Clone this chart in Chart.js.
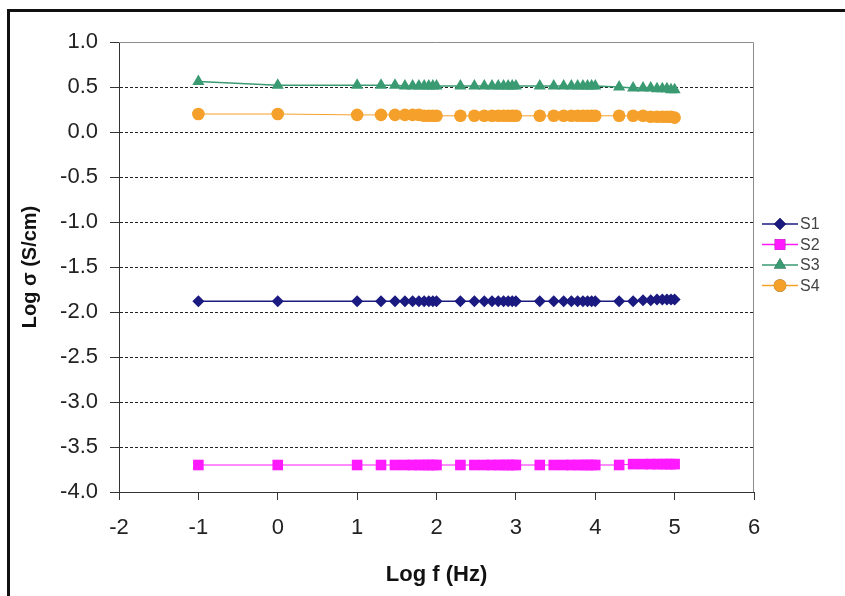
<!DOCTYPE html>
<html>
<head>
<meta charset="utf-8">
<script src="https://cdn.jsdelivr.net/npm/chart.js@4.4.1/dist/chart.umd.min.js"></script>
<style>
  html, body { margin: 0; padding: 0; background: #fff; }
  #wrap { position: relative; width: 845px; height: 596px; overflow: hidden; }
  #frame {
    position: absolute; left: 7px; top: 9px; width: 900px; height: 700px;
    border-top: 3px solid #111; border-left: 3px solid #111; pointer-events: none;
  }
</style>
</head>
<body>
<div id="wrap">
  <canvas id="chart" width="845" height="596"></canvas>
  <div id="frame"></div>
</div>
<script>
// log of frequency (Hz)
const logF = [
  -1, 0, 1,
  1.301, 1.477, 1.602, 1.699, 1.778, 1.845, 1.903, 1.954, 2,
  2.301, 2.477, 2.602, 2.699, 2.778, 2.845, 2.903, 2.954, 3,
  3.301, 3.477, 3.602, 3.699, 3.778, 3.845, 3.903, 3.954, 4,
  4.301, 4.477, 4.602, 4.699, 4.778, 4.845, 4.903, 4.954, 5
];

// log conductivity (S/cm) for each sample
const s1 = [
  -1.88, -1.88, -1.88,
  -1.88, -1.88, -1.88, -1.88, -1.88, -1.88, -1.88, -1.88, -1.88,
  -1.88, -1.88, -1.88, -1.88, -1.88, -1.88, -1.88, -1.88, -1.88,
  -1.88, -1.88, -1.88, -1.88, -1.88, -1.88, -1.88, -1.88, -1.88,
  -1.88, -1.88, -1.87, -1.87, -1.86, -1.86, -1.86, -1.86, -1.86
];
const s2 = [
  -3.70, -3.70, -3.70,
  -3.70, -3.70, -3.70, -3.70, -3.70, -3.70, -3.70, -3.70, -3.70,
  -3.70, -3.70, -3.70, -3.70, -3.70, -3.70, -3.70, -3.70, -3.70,
  -3.70, -3.70, -3.70, -3.70, -3.70, -3.70, -3.70, -3.70, -3.70,
  -3.70, -3.69, -3.69, -3.69, -3.69, -3.69, -3.69, -3.69, -3.69
];
const s3 = [
  0.56, 0.52, 0.52,
  0.52, 0.52, 0.51, 0.51, 0.51, 0.51, 0.51, 0.51, 0.51,
  0.51, 0.51, 0.51, 0.51, 0.51, 0.51, 0.51, 0.51, 0.51,
  0.51, 0.51, 0.51, 0.51, 0.51, 0.51, 0.51, 0.51, 0.51,
  0.50, 0.49, 0.49, 0.49, 0.48, 0.48, 0.48, 0.47, 0.47
];
const s4 = [
  0.20, 0.20, 0.19,
  0.19, 0.19, 0.19, 0.19, 0.19, 0.18, 0.18, 0.18, 0.18,
  0.18, 0.18, 0.18, 0.18, 0.18, 0.18, 0.18, 0.18, 0.18,
  0.18, 0.18, 0.18, 0.18, 0.18, 0.18, 0.18, 0.18, 0.18,
  0.18, 0.18, 0.18, 0.17, 0.17, 0.17, 0.17, 0.17, 0.16
];

const seriesNames = ['S1', 'S2', 'S3', 'S4'];
const xTicks = [-2, -1, 0, 1, 2, 3, 4, 5, 6];

function pts(ys) {
  return logF.map((x, i) => ({x: x, y: ys[i]}));
}

const FONT = 'Arial, "Liberation Sans", sans-serif';

// plot frame (grey top/right edges like Excel)
const plotFrame = {
  id: 'plotFrame',
  beforeDatasetsDraw(chart) {
    const {ctx, chartArea: a} = chart;
    ctx.save();
    ctx.strokeStyle = '#8c8c8c';
    ctx.lineWidth = 1;
    ctx.beginPath();
    ctx.moveTo(a.left, a.top + 0.5);
    ctx.lineTo(a.right - 0.5, a.top + 0.5);
    ctx.lineTo(a.right - 0.5, a.bottom);
    ctx.stroke();
    ctx.restore();
  }
};

// legend: line with marker, then label
const sideLegend = {
  id: 'sideLegend',
  afterDraw(chart) {
    const ctx = chart.ctx;
    const x0 = 762, x1 = 798, tx = 800;
    ctx.save();
    chart.data.datasets.forEach((ds, i) => {
      const y = 224 + i * 20.5;
      ctx.strokeStyle = ds.borderColor;
      ctx.lineWidth = 1.3;
      ctx.beginPath();
      ctx.moveTo(x0, y);
      ctx.lineTo(x1, y);
      ctx.stroke();
      Chart.helpers.drawPoint(ctx, {
        pointStyle: ds.pointStyle,
        radius: ds.pointRadius,
        borderWidth: 0
      }, (x0 + x1) / 2, y);
      ctx.fillStyle = ds.pointBackgroundColor;
      ctx.fill();
      ctx.fillStyle = '#444';
      ctx.font = '16px ' + FONT;
      ctx.textBaseline = 'middle';
      ctx.fillText(ds.label, tx, y + 1);
    });
    ctx.restore();
  }
};

const mk = (label, ys, color, style, radius, width) => ({
  label: label,
  data: pts(ys),
  borderColor: color,
  backgroundColor: color,
  pointBackgroundColor: color,
  pointBorderColor: color,
  pointBorderWidth: 0,
  pointStyle: style,
  pointRadius: radius,
  borderWidth: width,
  showLine: true,
  tension: 0
});

new Chart(document.getElementById('chart').getContext('2d'), {
  type: 'scatter',
  data: {
    datasets: [
      mk(seriesNames[0], s1, '#1a1a80', 'rectRot', 6, 1.5),
      mk(seriesNames[1], s2, '#ff19ff', 'rect', 7.5, 1),
      mk(seriesNames[2], s3, '#3a9a72', 'triangle', 7, 1.5),
      mk(seriesNames[3], s4, '#f5a02a', 'circle', 6.3, 1)
    ]
  },
  options: {
    responsive: false,
    animation: false,
    events: [],
    layout: {padding: {left: 0, top: 42, right: 91, bottom: 0}},
    plugins: {
      legend: {display: false},
      tooltip: {enabled: false}
    },
    scales: {
      x: {
        type: 'linear',
        min: -2,
        max: 6,
        afterBuildTicks: (scale) => { scale.ticks = xTicks.map(v => ({value: v})); },
        afterFit: (scale) => { scale.height = 104; },
        grid: {display: true, drawOnChartArea: false, drawTicks: true, tickLength: 8, color: '#333'},
        border: {display: true, color: '#333', width: 1},
        ticks: {
          color: '#222',
          font: {family: FONT, size: 22},
          padding: 15,
          maxRotation: 0
        },
        title: {
          display: true,
          text: 'Log f (Hz)',
          color: '#111',
          font: {family: FONT, size: 22, weight: 'bold'},
          padding: {top: 10, bottom: 8}
        }
      },
      y: {
        type: 'linear',
        min: -4,
        max: 1,
        afterFit: (scale) => { scale.width = 119; },
        grid: {
          drawOnChartArea: true,
          drawTicks: true,
          tickLength: 9,
          lineWidth: 1,
          color: (c) => (c.tick && (c.tick.value === -4 || c.tick.value === 1)) ? 'rgba(0,0,0,0)' : '#222',
          tickColor: '#333'
        },
        border: {display: true, color: '#333', width: 1, dash: [3, 2]},
        ticks: {
          stepSize: 0.5,
          color: '#222',
          font: {family: FONT, size: 22},
          padding: 12,
          callback: (v) => Number(v).toFixed(1)
        },
        title: {
          display: true,
          text: 'Log σ (S/cm)',
          color: '#111',
          font: {family: FONT, size: 20, weight: 'bold'},
          padding: {top: 18, bottom: 0}
        }
      }
    }
  },
  plugins: [plotFrame, sideLegend]
});
</script>
</body>
</html>
